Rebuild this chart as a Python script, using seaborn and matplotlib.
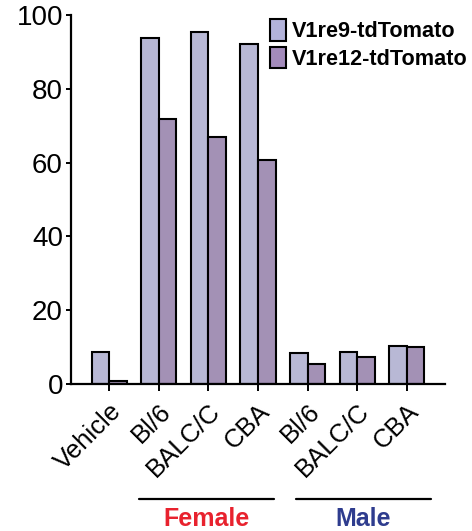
import matplotlib
matplotlib.use("Agg")
import matplotlib.pyplot as plt
import matplotlib.transforms as mtrans
import seaborn as sns
import pandas as pd
from matplotlib.patches import Patch
from matplotlib.lines import Line2D

# ---- data ----
keys = ["Vehicle", "F_Bl6", "F_BALC", "F_CBA", "M_Bl6", "M_BALC", "M_CBA"]
tick_labels = ["Vehicle", "Bl/6", "BALC/C", "CBA", "Bl/6", "BALC/C", "CBA"]
series_names = ["V1re9-tdTomato", "V1re12-tdTomato"]
v1re9 = [8.7, 93.8, 95.4, 92.1, 8.3, 8.7, 10.4]
v1re12 = [0.9, 71.7, 66.9, 60.7, 5.3, 7.2, 10.1]
yticks = [0, 20, 40, 60, 80, 100]
groups = ["Female", "Male"]
group_colors = ["#E8222E", "#2E3C8E"]
colors = ["#B3B3DA", "#A38BBB"]

df = pd.DataFrame({
    "cond": keys * 2,
    "value": v1re9 + v1re12,
    "series": [series_names[0]] * len(keys) + [series_names[1]] * len(keys),
})

sns.set_style("ticks")
plt.rcParams["font.family"] = ["Liberation Sans", "DejaVu Sans"]
plt.rcParams["text.color"] = "black"
plt.rcParams["xtick.labelcolor"] = "black"
plt.rcParams["ytick.labelcolor"] = "black"

fig = plt.figure(figsize=(4.72, 5.31), dpi=100)
ax = fig.add_axes([71 / 472, 1 - 384 / 531, (445 - 71) / 472, (384 - 15) / 531])

sns.barplot(data=df, x="cond", y="value", hue="series", order=keys,
            hue_order=series_names, palette=colors, width=0.71,
            edgecolor="black", linewidth=1.5, ax=ax, legend=False)

ax.set_xlim(-0.77, 6.77)
ax.set_ylim(0, 100)
ax.set_yticks(yticks)
ax.set_yticklabels([str(t) for t in yticks], fontsize=20)
ax.set_xticks(range(len(keys)))
ax.set_xticklabels(tick_labels, fontsize=18.5, rotation=45, ha="right",
                   rotation_mode="anchor")
off = mtrans.ScaledTranslation(8 / 100, -4 / 100, fig.dpi_scale_trans)
for lab in ax.get_xticklabels():
    lab.set_transform(lab.get_transform() + off)
ax.set_xlabel("")
ax.set_ylabel("")
for s in ["top", "right"]:
    ax.spines[s].set_visible(False)
for s in ["left", "bottom"]:
    ax.spines[s].set_linewidth(1.6)
    ax.spines[s].set_color("black")
ax.tick_params(axis="y", width=1.4, length=3.8, color="black", pad=2,
               labelcolor="black")
ax.tick_params(axis="x", width=1.4, length=5, color="black", pad=6,
               labelcolor="black")

# legend
handles = [Patch(facecolor=c, edgecolor="black", linewidth=1.5) for c in colors]
fig.legend(handles, series_names, loc="upper left",
           bbox_to_anchor=(255 / 472, 1 - 4 / 531), frameon=False,
           prop={"weight": "bold", "size": 15.6}, handlelength=0.74,
           handleheight=1.15, handletextpad=0.28, labelspacing=0.2,
           borderpad=0.2)

# group lines + labels
ly = 1 - 499 / 531
for (x0, x1), name, col in zip([(139, 274), (296, 431)], groups, group_colors):
    fig.add_artist(Line2D([x0 / 472, x1 / 472], [ly, ly], color="black",
                          linewidth=1.6, transform=fig.transFigure))
    fig.text((x0 + x1) / 2 / 472, 1 - 519 / 531, name, color=col,
             fontsize=18, fontweight="bold", ha="center", va="center")

fig.savefig("out.png", dpi=100)
